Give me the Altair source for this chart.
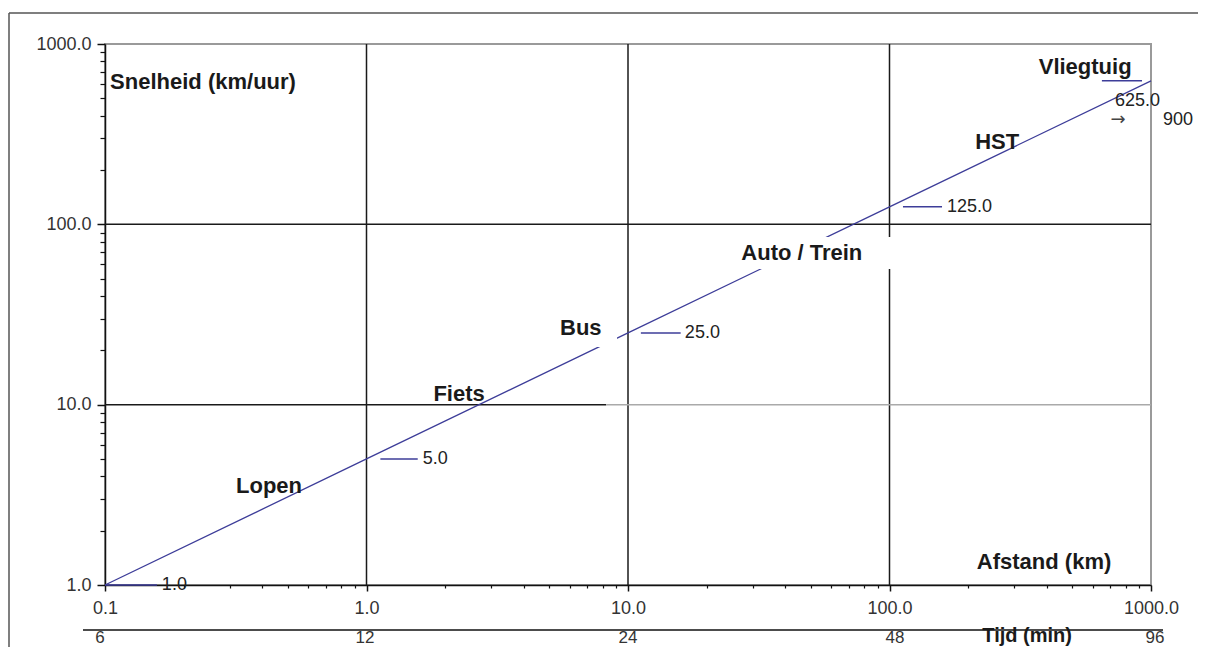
import altair as alt
import pandas as pd

# ---- data ----
dist_km = [0.1, 1, 10, 100, 1000]
speed_kmh = [1, 5, 25, 125, 625]

x_major = [0.1, 1, 10, 100, 1000]
x_minor = [0.2, 0.3, 0.4, 0.5, 0.6, 0.7, 0.8, 0.9,
           2, 3, 4, 5, 6, 7, 8, 9,
           20, 30, 40, 50, 60, 70, 80, 90,
           200, 300, 400, 500, 600, 700, 800, 900]
y_major = [1, 10, 100, 1000]
y_minor = [2, 3, 4, 5, 6, 7, 8, 9,
           20, 30, 40, 50, 60, 70, 80, 90,
           200, 300, 400, 500, 600, 700, 800, 900]

# grid lines
vgrid_x = [1, 10, 100]
hgrid_y = [10, 10, 100]
hgrid_x1 = [0.1, 8.25, 0.1]
hgrid_x2 = [8.25, 1000, 1000]
hgrid_col = ["#1a1a1a", "#aaaaaa", "#1a1a1a"]

# value markers
marker_labels = ["1.0", "5.0", "25.0", "125.0", "625.0"]
marker_speed = [1, 5, 25, 125, 625]
marker_x_start = [0.1, 1.13, 11.2, 112.6, 649]
marker_x_end = [0.158, 1.57, 15.9, 158.8, 924]
marker_text_x = [0.165, 1.64, 16.5, 166, 728]
marker_text_y = [1, 5, 25, 125, 483]

extra_labels = ["\u2192", "900"]
extra_x = [700, 1112]
extra_y = [379, 379]

mode_labels = ["Snelheid (km/uur)", "Vliegtuig", "HST", "Auto / Trein",
               "Bus", "Fiets", "Lopen", "Afstand (km)"]
mode_x = [0.237, 560, 258, 46.2, 6.6, 2.26, 0.424, 390]
mode_y = [616, 746, 286, 69.4, 26.6, 11.5, 3.54, 1.34]

# white boxes behind labels (gaps in line / grid)
box_x1 = [25.6, 5.26]
box_x2 = [105, 9.08]
box_y1 = [56.6, 20.9]
box_y2 = [85.2, 32.7]

tijd_labels = ["6", "12", "24", "48", "96"]
tijd_x = [0.0957, 0.987, 10.0, 105, 1035]
tijd_title_x = [336]

FONT = "Liberation Sans"
LINE_COL = "#3d3d99"

xs = alt.Scale(type="log", domain=[0.1, 1000], nice=False)
ys = alt.Scale(type="log", domain=[1, 1000], nice=False)

line_df = pd.DataFrame({"x": dist_km, "y": speed_kmh})
vgrid_df = pd.DataFrame({"x": vgrid_x, "y1": [1] * 3, "y2": [1000] * 3})
hgrid_df = pd.DataFrame({"y": hgrid_y, "x1": hgrid_x1, "x2": hgrid_x2, "c": hgrid_col})
marker_df = pd.DataFrame({"y": marker_speed, "x1": marker_x_start, "x2": marker_x_end})
mtext_df = pd.DataFrame({"t": marker_labels + extra_labels[1:],
                         "x": marker_text_x + extra_x[1:],
                         "y": marker_text_y + extra_y[1:]})
arrow_df = pd.DataFrame({"t": extra_labels[:1], "x": extra_x[:1], "y": extra_y[:1]})
mode_df = pd.DataFrame({"t": mode_labels, "x": mode_x, "y": mode_y})
box_df = pd.DataFrame({"x1": box_x1, "x2": box_x2, "y1": box_y1, "y2": box_y2})
tijd_df = pd.DataFrame({"t": tijd_labels, "x": tijd_x})
tijd_title_df = pd.DataFrame({"t": ["Tijd (min)"], "x": tijd_title_x})
one = pd.DataFrame({"a": [0]})

x_axis_major = alt.Axis(values=x_major, format=".1f", title=None, grid=False,
                        orient="bottom", labelFont=FONT, labelFontSize=18,
                        labelColor="#333", tickSize=6, tickColor="#111",
                        tickWidth=1.5, domainColor="#111", domainWidth=1.5,
                        labelPadding=8, labelOverlap=False, labelFlush=False)
x_axis_minor = alt.Axis(values=x_minor, title=None, grid=False, orient="bottom",
                        labels=False, domain=False, tickSize=3,
                        tickColor="#111", tickWidth=1.2)
y_axis_major = alt.Axis(values=y_major, format=".1f", title=None, grid=False,
                        orient="left", labelFont=FONT, labelFontSize=18,
                        labelColor="#333", tickSize=8, tickColor="#111",
                        tickWidth=1.5, domainColor="#111", domainWidth=1.5,
                        labelPadding=6, labelOverlap=False, labelFlush=False)
y_axis_minor = alt.Axis(values=y_minor, title=None, grid=False, orient="left",
                        labels=False, domain=False, tickSize=5,
                        tickColor="#111", tickWidth=1.2)

vgrid = alt.Chart(vgrid_df).mark_rule(color="#1a1a1a", strokeWidth=1.5).encode(
    x=alt.X("x:Q", scale=xs, axis=x_axis_major),
    y=alt.Y("y1:Q", scale=ys, axis=y_axis_major),
    y2="y2:Q",
)

hgrid = alt.Chart(hgrid_df).mark_rule(strokeWidth=1.5).encode(
    x=alt.X("x1:Q", scale=xs, axis=x_axis_minor),
    x2="x2:Q",
    y=alt.Y("y:Q", scale=ys, axis=y_axis_minor),
    color=alt.Color("c:N", scale=None),
)

main_line = alt.Chart(line_df).mark_line(color=LINE_COL, strokeWidth=1.3).encode(
    x=alt.X("x:Q", scale=xs, axis=None),
    y=alt.Y("y:Q", scale=ys, axis=None),
)

markers = alt.Chart(marker_df).mark_rule(color=LINE_COL, strokeWidth=1.5).encode(
    x=alt.X("x1:Q", scale=xs, axis=None),
    x2="x2:Q",
    y=alt.Y("y:Q", scale=ys, axis=None),
)

boxes = alt.Chart(box_df).mark_rect(color="white").encode(
    x=alt.X("x1:Q", scale=xs, axis=None),
    x2="x2:Q",
    y=alt.Y("y1:Q", scale=ys, axis=None),
    y2="y2:Q",
)

mtext = alt.Chart(mtext_df).mark_text(
    font=FONT, fontSize=18, color="#222", align="left", baseline="middle"
).encode(
    x=alt.X("x:Q", scale=xs, axis=None),
    y=alt.Y("y:Q", scale=ys, axis=None),
    text="t:N",
)

arrow = alt.Chart(arrow_df).mark_text(
    font="DejaVu Sans", fontSize=18, fontWeight="normal", color="#444",
    align="left", baseline="middle"
).encode(
    x=alt.X("x:Q", scale=xs, axis=None),
    y=alt.Y("y:Q", scale=ys, axis=None),
    text="t:N",
)

mode_text = alt.Chart(mode_df).mark_text(
    font=FONT, fontSize=22, fontWeight="bold", color="#1a1a1a",
    align="center", baseline="middle"
).encode(
    x=alt.X("x:Q", scale=xs, axis=None),
    y=alt.Y("y:Q", scale=ys, axis=None),
    text="t:N",
)

tijd_rule = alt.Chart(one).mark_rule(color="#111", strokeWidth=1.5).encode(
    x=alt.value(-22), x2=alt.value(1058), y=alt.value(586)
)

tijd_text = alt.Chart(tijd_df).mark_text(
    font=FONT, fontSize=17, color="#333", align="center", baseline="middle"
).encode(
    x=alt.X("x:Q", scale=xs, axis=None),
    y=alt.value(594),
    text="t:N",
)

tijd_title = alt.Chart(tijd_title_df).mark_text(
    font=FONT, fontSize=20, fontWeight="bold", color="#1a1a1a",
    align="center", baseline="middle"
).encode(
    x=alt.X("x:Q", scale=xs, axis=None),
    y=alt.value(592),
    text="t:N",
)

frame_left = alt.Chart(one).mark_rule(color="#555", strokeWidth=1.5).encode(
    x=alt.value(-96), y=alt.value(-31), y2=alt.value(610)
)
frame_top = alt.Chart(one).mark_rule(color="#555", strokeWidth=1.5).encode(
    x=alt.value(-96), x2=alt.value(1100), y=alt.value(-31)
)

chart = alt.layer(
    vgrid, hgrid, main_line, markers, boxes, mtext, arrow, mode_text,
    tijd_rule, tijd_text, tijd_title, frame_left, frame_top,
).properties(
    width=1046,
    height=541,
    autosize=alt.AutoSizeParams(type="none"),
    padding={"left": 97, "top": 36, "right": 47, "bottom": 62},
).resolve_axis(
    x="independent", y="independent"
).configure_view(
    stroke="#9a9a9a", strokeWidth=2
)

chart.save("out.html", embed_options={"renderer": "svg", "actions": False})
